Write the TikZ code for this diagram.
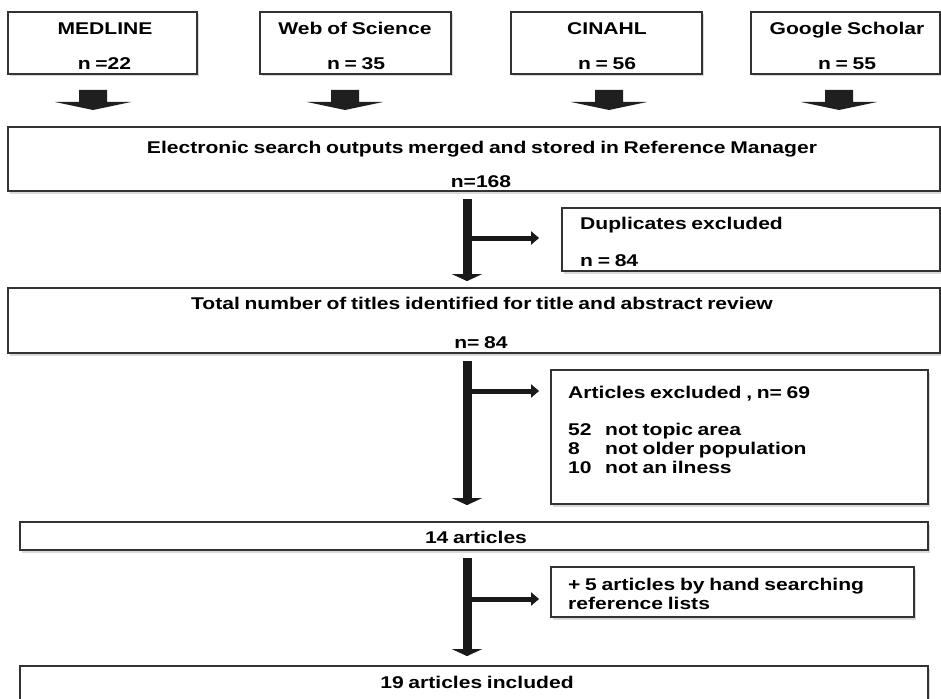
\documentclass[tikz,border=0pt]{standalone}
\usepackage{fontspec}
\setmainfont[FakeStretch=1.24,WordSpace=0.8]{Liberation Sans}
\usetikzlibrary{arrows.meta,shadows}

\begin{document}
\begin{tikzpicture}[x=1pt,y=-1pt,
  box/.style={draw=black!80, line width=1.8pt, fill=white, rectangle, inner sep=0pt,
    drop shadow={shadow xshift=2pt, shadow yshift=-2.5pt, opacity=0.3}},
  txt/.style={inner sep=0pt, text height=12.2pt, text depth=0pt,
    font=\fontsize{17}{19}\selectfont\bfseries},
  ltxt/.style={txt, anchor=west},
  vline/.style={line width=9pt, black!90, -{Triangle[width=30pt 0 0, length=7pt 0 0]}},
  hline/.style={line width=5pt, black!90, -{Triangle[width=13pt 0 0, length=8pt 0 0]}},
  fatarrow/.pic={\fill[black!88] (-14,0) -- (14,0) -- (14,12) -- (38,12) -- (0,20)
    -- (-38,12) -- (-14,12) -- cycle;}
]
\useasboundingbox (0,0) rectangle (941,698);
\clip (0,0) rectangle (941,698);

% source databases
\node[box, minimum width=189pt, minimum height=62pt] (medline) at (102.5,43) {};
\node[box, minimum width=191pt, minimum height=62pt] (wos) at (355.5,43) {};
\node[box, minimum width=191pt, minimum height=62pt] (cinahl) at (606.5,43) {};
\node[box, minimum width=189pt, minimum height=62pt] (google) at (845.5,43) {};
\node[txt] (medline-t) at (105,28) {MEDLINE};
\node[txt] (medline-n) at (104.5,63) {n =22};
\node[txt] (wos-t) at (355,28) {Web of Science};
\node[txt] (wos-n) at (356,63) {n = 35};
\node[txt] (cinahl-t) at (607,28) {CINAHL};
\node[txt] (cinahl-n) at (607,63) {n = 56};
\node[txt] (google-t) at (847,28) {Google Scholar};
\node[txt] (google-n) at (847,63) {n = 55};

% block arrows into the merged set
\pic at (93,90) {fatarrow};
\pic at (345,90) {fatarrow};
\pic at (609,90) {fatarrow};
\pic at (839,90) {fatarrow};

% main flow boxes
\node[box, minimum width=932pt, minimum height=64pt] (merged) at (474,159) {};
\node[txt] (merged-t) at (482,147) {Electronic search outputs merged and stored in Reference Manager};
\node[txt] (merged-n) at (481,181) {n=168};

\node[box, minimum width=378pt, minimum height=63pt] (dup) at (751,239.5) {};
\node[ltxt] (dup-t) at (580,223) {Duplicates excluded};
\node[ltxt] (dup-n) at (580,260) {n = 84};

\node[box, minimum width=932pt, minimum height=65pt] (total) at (474,320.5) {};
\node[txt] (total-t) at (482,303) {Total number of titles identified for title and abstract review};
\node[txt] (total-n) at (481,342) {n= 84};

\node[box, minimum width=377pt, minimum height=134pt] (excl) at (739.5,437) {};
\node[ltxt] (excl-t) at (568,392) {Articles excluded , n= 69};
\node[ltxt] (excl-a) at (568,429) {\makebox[37pt][l]{52}not topic area};
\node[ltxt] (excl-b) at (568,448) {\makebox[37pt][l]{8}not older population};
\node[ltxt] (excl-c) at (568,467) {\makebox[37pt][l]{10}not an ilness};

\node[box, minimum width=908pt, minimum height=28pt] (fourteen) at (474,536) {};
\node[txt] (fourteen-t) at (476,537) {14 articles};

\node[box, minimum width=363pt, minimum height=50pt] (hand) at (732.5,592) {};
\node[ltxt] (hand-a) at (568,584) {+ 5 articles by hand searching};
\node[ltxt] (hand-b) at (568,603) {reference lists};

\node[box, minimum width=908pt, minimum height=68pt] (final) at (474,700) {};
\node[txt] (final-t) at (477,682) {19 articles included};

% trunk and side branches
\coordinate (ax) at (467,0);
\coordinate (b1) at (467,238);
\coordinate (b2) at (467,391);
\coordinate (b3) at (467,599);

\draw[vline, shorten <=7pt, shorten >=6pt] (merged.south -| ax) -- (total.north -| ax);
\draw[vline, shorten <=7pt, shorten >=16pt] (total.south -| ax) -- (fourteen.north -| ax);
\draw[vline, shorten <=7pt, shorten >=9pt] (fourteen.south -| ax) -- (final.north -| ax);

\draw[hline, shorten >=22pt] (b1) -- (b1 -| dup.west);
\draw[hline, shorten >=11pt] (b2) -- (b2 -| excl.west);
\draw[hline, shorten >=11pt] (b3) -- (b3 -| hand.west);
\end{tikzpicture}
\end{document}
